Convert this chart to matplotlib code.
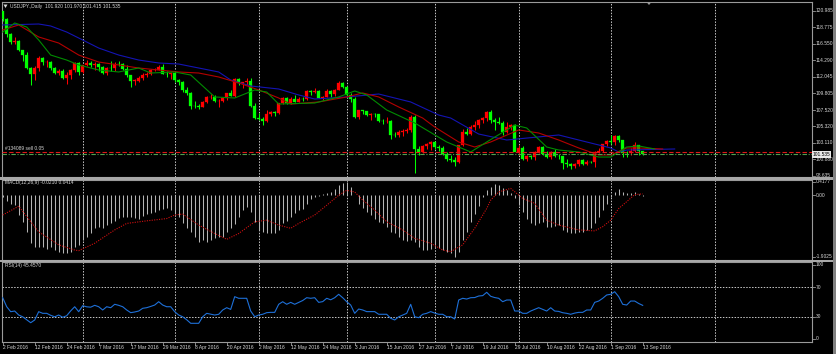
import matplotlib
matplotlib.use("Agg")
import matplotlib.pyplot as plt
from matplotlib.patches import Rectangle, Polygon

W, H, DPI = 836, 354, 100

# ---------------- data ----------------
symbol_header = "USDJPY.,Daily  101.920 101.970 101.415 101.535"
macd_header = "MACD(12,26,9) -0.0210 0.0414"
rsi_header = "RSI(14) 45.4570"
order_label = "#134089 sell 0.05"

date_labels = ["2 Feb 2016", "12 Feb 2016", "24 Feb 2016", "7 Mar 2016", "17 Mar 2016",
               "29 Mar 2016", "8 Apr 2016", "20 Apr 2016", "2 May 2016", "12 May 2016",
               "24 May 2016", "3 Jun 2016", "15 Jun 2016", "27 Jun 2016", "7 Jul 2016",
               "19 Jul 2016", "29 Jul 2016", "10 Aug 2016", "22 Aug 2016", "1 Sep 2016",
               "13 Sep 2016"]
month_start_bars = [20, 43, 64, 86, 108, 129, 152, 178]

opens = [120.98, 119.95, 117.93, 116.82, 116.86, 115.63, 114.97, 113.29, 112.42, 113.19,
         114.61, 114.02, 114.06, 113.24, 112.57, 112.85, 111.96, 112.30, 112.95, 113.97,
         112.69, 113.60, 113.94, 113.72, 113.79, 113.40, 112.62, 113.28, 113.22, 113.81,
         113.80, 113.16, 112.28, 111.52, 111.55, 111.87, 112.32, 112.39, 112.98, 113.02,
         113.42, 112.41, 112.40, 112.53, 111.63, 111.32, 110.30, 109.85, 108.08, 108.06,
         107.96, 108.62, 109.30, 109.38, 108.76, 108.82, 109.19, 109.82, 109.45, 111.80,
         111.17, 111.32, 111.44, 108.10, 106.50, 106.35, 106.09, 106.96, 107.27, 107.10,
         108.44, 109.22, 108.50, 109.02, 108.63, 109.08, 109.06, 110.13, 109.98, 110.15,
         109.24, 109.33, 110.17, 109.77, 110.22, 111.21, 110.71, 109.56, 108.98, 106.54,
         107.49, 107.36, 106.93, 107.00, 106.96, 106.09, 106.01, 106.02, 104.22, 104.12,
         104.61, 104.75, 104.84, 106.65, 102.20, 101.90, 102.65, 102.95, 103.20, 102.50,
         102.35, 101.60, 100.85, 100.70, 100.45, 102.80, 104.60, 104.30, 105.30, 105.45,
         106.20, 106.40, 107.30, 106.20, 105.95, 105.75, 104.60, 105.30, 105.50, 101.90,
         102.40, 100.95, 101.26, 101.24, 101.81, 102.50, 101.62, 101.20, 101.80, 101.28,
         101.25, 100.30, 100.22, 99.90, 100.23, 100.75, 100.20, 100.50, 100.50, 101.80,
         101.95, 102.95, 103.40, 103.27, 103.98, 103.42, 101.70, 101.70, 101.98, 102.75,
         101.92]
highs = [121.04, 120.07, 118.05, 117.50, 117.08, 115.75, 115.45, 113.40, 113.47, 114.87,
         114.72, 114.40, 114.16, 113.41, 113.17, 113.06, 112.66, 113.17, 114.00, 114.02,
         113.70, 114.30, 114.18, 114.12, 113.95, 113.58, 113.33, 114.15, 114.00, 114.17,
         113.92, 113.60, 112.35, 111.78, 112.17, 112.55, 112.65, 113.16, 113.20, 113.66,
         113.79, 112.79, 112.68, 112.70, 111.80, 111.45, 110.69, 109.95, 108.75, 108.42,
         108.76, 109.50, 109.73, 109.62, 109.05, 109.30, 109.92, 110.20, 111.90, 111.84,
         111.41, 111.88, 111.85, 108.45, 107.10, 106.58, 107.50, 107.48, 107.45, 108.50,
         109.37, 109.28, 109.29, 109.54, 109.30, 109.26, 110.20, 110.30, 110.58, 110.24,
         109.50, 110.34, 110.28, 110.45, 111.45, 111.40, 110.76, 109.80, 109.25, 107.60,
         107.60, 107.40, 107.20, 107.20, 107.00, 106.38, 106.62, 106.17, 104.55, 104.83,
         104.95, 105.05, 106.83, 106.83, 102.60, 102.75, 103.10, 103.30, 103.30, 102.82,
         102.60, 101.90, 101.50, 101.20, 102.85, 104.94, 105.15, 105.45, 106.00, 106.30,
         106.55, 107.40, 107.49, 106.50, 106.56, 106.00, 105.87, 105.70, 105.70, 102.85,
         102.63, 101.40, 101.50, 102.05, 102.67, 102.60, 101.95, 102.05, 102.25, 101.55,
         101.30, 100.95, 100.30, 100.40, 100.90, 100.95, 100.70, 100.68, 102.05, 102.40,
         103.00, 103.50, 104.20, 104.15, 104.10, 103.50, 102.00, 102.40, 103.18, 102.78,
         101.97]
lows = [119.63, 117.52, 116.53, 116.46, 115.55, 114.21, 113.07, 110.98, 111.56, 112.88,
        113.70, 113.36, 112.99, 112.38, 112.29, 111.74, 111.04, 111.80, 112.75, 112.36,
        112.54, 113.52, 113.40, 113.00, 112.85, 112.45, 112.33, 112.88, 112.89, 113.51,
        112.95, 111.97, 110.67, 110.98, 111.32, 111.63, 112.02, 112.30, 112.90, 113.02,
        112.40, 112.00, 111.80, 111.40, 111.00, 110.05, 109.62, 107.65, 107.85, 107.62,
        107.90, 108.50, 109.00, 108.70, 107.89, 108.62, 108.94, 109.39, 109.37, 110.96,
        110.54, 111.00, 107.90, 106.30, 106.13, 105.54, 105.90, 106.80, 106.80, 107.05,
        108.35, 108.30, 108.43, 108.60, 108.60, 108.72, 108.95, 109.57, 109.80, 109.13,
        108.95, 109.29, 109.37, 109.40, 110.20, 110.52, 109.33, 108.70, 106.51, 106.30,
        107.05, 106.70, 106.25, 106.60, 105.98, 105.65, 105.85, 103.55, 103.90, 103.93,
        104.05, 104.40, 104.60, 99.02, 101.45, 101.73, 102.20, 102.15, 102.25, 102.05,
        101.50, 100.60, 100.55, 99.98, 100.40, 102.60, 104.10, 104.20, 104.90, 105.10,
        105.80, 106.00, 105.78, 104.82, 105.60, 104.15, 104.40, 104.85, 101.95, 101.50,
        100.72, 100.68, 100.96, 100.78, 101.70, 101.50, 101.05, 100.90, 101.15, 100.88,
        99.55, 99.82, 99.55, 99.63, 99.95, 100.10, 100.05, 100.35, 99.85, 101.70,
        101.88, 102.65, 102.90, 102.82, 103.20, 101.20, 101.20, 101.42, 101.90, 101.48,
        101.415]
closes = [119.95, 117.93, 116.82, 116.86, 115.63, 114.97, 113.29, 112.42, 113.19, 114.61,
          114.02, 114.06, 113.24, 112.57, 112.85, 111.96, 112.30, 112.95, 113.97, 112.69,
          113.60, 113.94, 113.72, 113.79, 113.40, 112.62, 113.28, 113.22, 113.81, 113.80,
          113.16, 112.28, 111.52, 111.55, 111.87, 112.32, 112.39, 112.98, 113.02, 113.42,
          112.41, 112.40, 112.53, 111.63, 111.32, 110.30, 109.85, 108.08, 108.06, 107.96,
          108.62, 109.30, 109.38, 108.76, 108.82, 109.19, 109.82, 109.45, 111.80, 111.17,
          111.32, 111.44, 108.10, 106.50, 106.35, 106.09, 106.96, 107.27, 107.10, 108.44,
          109.22, 108.50, 109.02, 108.63, 109.08, 109.06, 110.13, 109.98, 110.15, 109.24,
          109.33, 110.17, 109.77, 110.22, 111.21, 110.71, 109.56, 108.98, 106.54, 107.49,
          107.36, 106.93, 107.00, 106.96, 106.09, 106.01, 106.02, 104.22, 104.12, 104.61,
          104.75, 104.84, 106.65, 102.20, 101.90, 102.65, 102.95, 103.20, 102.50, 102.35,
          101.60, 100.85, 100.70, 100.45, 102.80, 104.60, 104.30, 105.30, 105.45, 106.20,
          106.40, 107.30, 106.20, 105.95, 105.75, 104.60, 105.30, 105.50, 101.90, 102.40,
          100.95, 101.26, 101.24, 101.81, 102.50, 101.62, 101.20, 101.80, 101.28, 101.25,
          100.30, 100.22, 99.90, 100.23, 100.75, 100.20, 100.50, 100.50, 101.80, 101.95,
          102.95, 103.40, 103.27, 103.98, 103.42, 101.70, 101.70, 101.98, 102.75, 101.92,
          101.535]

# Alligator lines (bar index, price)
jaw_bars = [0, 9, 12, 16, 19, 24, 29, 34, 39, 44, 49, 54, 57, 62, 69, 74, 78, 86, 94, 102,
            109, 112, 119, 126, 139, 144, 152, 154, 156, 168]
jaw_vals = [119.09, 119.22, 118.95, 118.13, 117.32, 115.96, 115.01, 114.33, 113.93, 113.79,
            113.25, 112.71, 111.62, 110.81, 110.40, 109.59, 109.04, 109.32, 109.72, 108.64,
            106.87, 106.46, 104.29, 103.48, 104.16, 103.48, 102.40, 101.85, 102.12, 102.26]
teeth_bars = [0, 4, 9, 14, 19, 24, 29, 34, 39, 44, 49, 54, 59, 64, 69, 72, 79, 86, 90, 94,
              99, 105, 108, 114, 118, 122, 129, 134, 139, 144, 149, 152, 156, 159, 165]
teeth_vals = [118.41, 119.09, 117.46, 116.64, 115.01, 114.06, 113.66, 113.25, 112.98, 112.71,
              112.57, 112.03, 111.22, 110.27, 109.18, 108.36, 108.64, 109.32, 109.86, 109.32,
              107.96, 106.46, 105.24, 103.21, 102.53, 103.21, 104.84, 104.43, 103.48, 102.40,
              101.45, 101.45, 102.40, 102.40, 102.26]
lips_bars = [0, 3, 6, 9, 12, 16, 19, 24, 29, 34, 37, 43, 47, 53, 58, 63, 66, 69, 78, 84,
             88, 91, 96, 103, 111, 117, 121, 128, 131, 136, 139, 144, 149, 152, 156, 159, 163]
lips_vals = [118.13, 119.36, 118.81, 117.05, 115.01, 114.33, 113.66, 112.98, 112.71, 113.25,
             112.57, 112.71, 112.30, 109.32, 109.18, 110.27, 109.99, 108.36, 108.50, 109.32,
             110.13, 109.59, 107.55, 105.79, 103.21, 101.85, 103.21, 105.51, 105.11, 102.53,
             102.12, 101.85, 101.17, 101.17, 102.53, 102.67, 102.26]

macd_main = [-0.05, -0.17, -0.276, -0.307, -0.613, -0.818, -1.145, -1.462, -1.605, -1.585,
             -1.585, -1.656, -1.585, -1.687, -1.738, -1.769, -1.789, -1.738, -1.585, -1.534,
             -1.380, -1.278, -1.176, -1.022, -0.971, -1.002, -0.920, -0.869, -0.787, -0.716,
             -0.685, -0.665, -0.685, -0.716, -0.746, -0.644, -0.583, -0.562, -0.511, -0.460,
             -0.440, -0.409, -0.460, -0.583, -0.665, -0.869, -1.022, -1.125, -1.278, -1.432,
             -1.380, -1.432, -1.380, -1.329, -1.298, -1.278, -1.125, -1.022, -0.890, -0.665,
             -0.460, -0.358, -0.511, -0.818, -1.074, -1.125, -1.155, -1.176, -1.176, -1.074,
             -0.87, -0.79, -0.66, -0.56, -0.46, -0.41, -0.26, -0.12, -0.05, -0.02,
             0.03, 0.08, 0.11, 0.19, 0.31, 0.38, 0.4177, 0.25, 0.02, -0.26,
             -0.38, -0.51, -0.61, -0.72, -0.82, -0.87, -0.97, -1.12, -1.18, -1.28,
             -1.38, -1.40, -1.38, -1.43, -1.59, -1.69, -1.69, -1.67, -1.59, -1.64,
             -1.69, -1.74, -1.79, -1.9025, -1.74, -1.38, -1.12, -0.82, -0.58, -0.34,
             -0.05, 0.15, 0.25, 0.35, 0.31, 0.23, 0.15, 0.06, -0.10, -0.30,
             -0.51, -0.72, -0.87, -0.92, -0.87, -0.82, -0.97, -0.97, -0.95, -0.92,
             -1.07, -1.12, -1.18, -1.18, -1.12, -1.12, -1.07, -1.02, -0.87, -0.66,
             -0.46, -0.26, -0.05, 0.11, 0.18, 0.11, 0.06, 0.06, 0.10, 0.03,
             -0.021]
signal_bars = [0, 4, 9, 14, 18, 19, 23, 28, 31, 36, 41, 43, 45, 49, 53, 56, 59, 63, 66, 69,
               72, 74, 78, 81, 84, 86, 88, 90, 93, 96, 100, 103, 107, 110, 112, 115, 118, 121,
               122, 124, 127, 130, 133, 136, 139, 144, 148, 150, 152, 154, 156, 158, 160]
signal_vals = [-0.61, -0.34, -1.13, -1.53, -1.69, -1.71, -1.48, -1.07, -0.87, -0.79, -0.72,
               -0.61, -0.58, -0.92, -1.18, -1.36, -1.18, -0.82, -0.77, -0.92, -1.02, -0.87,
               -0.61, -0.31, 0.0, 0.15, 0.10, -0.15, -0.46, -0.82, -1.07, -1.33, -1.48, -1.69,
               -1.74, -1.53, -1.02, -0.41, -0.15, 0.10, 0.21, -0.10, -0.25, -0.77, -0.92,
               -1.07, -1.10, -0.97, -0.77, -0.41, -0.20, 0.02, 0.0414]

rsi_vals = [55.8, 43.6, 36.9, 37.8, 32.4, 30.0, 26.0, 22.0, 25.7, 36.9,
            34.7, 34.7, 32.0, 30.0, 32.4, 29.3, 31.5, 38.0, 43.6, 36.9,
            45.0, 43.5, 43.0, 45.5, 43.6, 39.2, 43.6, 42.3, 46.9, 45.5,
            43.6, 39.2, 35.6, 36.5, 37.8, 41.5, 42.3, 44.0, 45.9, 50.4,
            45.9, 43.6, 43.6, 36.9, 32.4, 30.0, 26.0, 21.2, 21.2, 21.2,
            30.1, 34.7, 33.5, 32.4, 33.4, 39.2, 42.3, 40.0, 57.2, 55.0,
            55.0, 55.0, 37.8, 30.1, 32.4, 33.4, 35.6, 36.0, 36.0, 46.9,
            50.4, 46.9, 49.5, 46.9, 49.5, 52.0, 55.8, 55.0, 55.8, 49.5,
            50.5, 55.0, 53.0, 55.8, 60.4, 55.8, 50.4, 45.9, 34.7, 40.5,
            39.2, 37.0, 37.0, 37.0, 33.4, 33.4, 33.4, 28.0, 25.7, 30.0,
            32.4, 34.7, 46.9, 30.1, 28.8, 33.4, 34.7, 37.0, 35.0, 33.4,
            33.4, 30.1, 30.1, 27.0, 52.7, 55.0, 54.0, 55.8, 56.0, 58.1,
            58.6, 63.1, 57.7, 56.0, 55.0, 50.4, 52.7, 52.7, 37.8, 37.8,
            34.7, 34.7, 37.8, 40.0, 42.3, 40.0, 37.8, 42.3, 37.8, 37.3,
            35.5, 34.7, 33.4, 35.0, 36.0, 36.0, 39.2, 39.2, 49.5, 51.3,
            55.0, 59.5, 60.4, 63.9, 57.2, 46.9, 45.9, 51.3, 51.3, 48.0,
            45.457]

price_labels = [120.985, 118.775, 116.550, 114.290, 112.045, 109.805, 107.520,
                105.320, 103.110, 100.880, 98.635]
current_price = 101.535
order_price = 101.81
macd_labels = [0.4177, 0.00, -1.9025]
rsi_levels = [70, 30]
rsi_labels = [100, 70, 30, 0]

# ---------------- style ----------------
BULL = "#ff0000"
BEAR = "#00ff00"
FRAME = "#9a9a9a"
GRID = "#c8c8c8"
TXT = "#d8d8d8"
FONT = "Liberation Sans"
FS = 3.5

fig = plt.figure(figsize=(W / DPI, H / DPI), dpi=DPI)
fig.patch.set_facecolor("black")

X0, X1 = 2, 812


def px_axes(y0, y1):
    ax = fig.add_axes([X0 / W, 1 - y1 / H, (X1 - X0) / W, (y1 - y0) / H])
    ax.set_facecolor("black")
    ax.set_xticks([])
    ax.set_yticks([])
    for s in ax.spines.values():
        s.set_color(FRAME)
        s.set_linewidth(0.8)
    ax.set_xlim((X0 - 2.7) / 4, (X1 - 2.7) / 4)
    return ax


def ftext(x, y, s, **kw):
    kw.setdefault("color", TXT)
    kw.setdefault("fontsize", FS)
    kw.setdefault("family", FONT)
    return fig.text(x / W, 1 - y / H, s, **kw)


def vgrid(a):
    for g in month_start_bars:
        a.axvline(g - 0.05, color=GRID, lw=0.7, ls=(0, (1.5, 1.5)), zorder=1)


# splitters between windows
for (a, b) in [(177, 179.5), (259.5, 262)]:
    fig.patches.append(Rectangle((0, 1 - b / H), 1, (b - a) / H, transform=fig.transFigure,
                                 facecolor="#a8a8a8", edgecolor="none", zorder=0))
fig.patches.append(Rectangle((833 / W, 0), 3 / W, 1, transform=fig.transFigure,
                             facecolor="#808080", edgecolor="none", zorder=0))

# ---------- main price window ----------
ax = px_axes(2, 177)
slope = 0.1357
ax.set_ylim(120.985 - 166 * slope, 120.985 + 9 * slope)
n = len(closes)
vgrid(ax)

for i in range(n):
    o, h, l, c = opens[i], highs[i], lows[i], closes[i]
    col = BULL if c > o else BEAR
    ax.plot([i, i], [l, h], color=col, lw=0.75, zorder=3, solid_capstyle="butt")
    bot = min(o, c)
    ht = max(abs(c - o), 0.04)
    ax.add_patch(Rectangle((i - 0.32, bot), 0.64, ht, facecolor=col, edgecolor=col,
                           lw=0.2, zorder=4))

ax.plot(jaw_bars, jaw_vals, color="#1414b4", lw=0.8, zorder=5)
ax.plot(teeth_bars, teeth_vals, color="#b40000", lw=0.8, zorder=5)
ax.plot(lips_bars, lips_vals, color="#008c00", lw=0.8, zorder=5)

ax.axhline(order_price, color="#e01818", lw=0.8, ls=(0, (4, 2)), zorder=6)
ax.axhline(current_price, color="#50a050", lw=0.8, ls=(0, (4, 1.5, 1, 1.5)), zorder=6)
ax.text(3 / 810, order_price + 0.12, order_label, transform=ax.get_yaxis_transform(),
        fontsize=FS, family=FONT, color=TXT, ha="left", va="bottom")

ytr = ax.get_yaxis_transform()
for v in price_labels:
    ax.plot([1.0, 1.004], [v, v], transform=ytr, color=FRAME, lw=0.6, clip_on=False)
    ax.text(1.005, v, f"{v:.3f}", transform=ytr, fontsize=FS, family=FONT, color=TXT,
            ha="left", va="center", clip_on=False)
ax.text(1.0012, current_price, f"{current_price:.3f}", transform=ytr, fontsize=FS,
        family=FONT, color="black", ha="left", va="center", clip_on=False, zorder=10,
        bbox=dict(boxstyle="square,pad=0.15", facecolor="#e8e8e8", edgecolor="none"))

# header
fig.patches.append(Polygon([[3.5 / W, 1 - 4.5 / H], [7.5 / W, 1 - 4.5 / H], [5.5 / W, 1 - 8 / H]],
                           closed=True, transform=fig.transFigure, facecolor=TXT,
                           edgecolor="none", zorder=10))
ftext(10, 6.5, symbol_header, ha="left", va="center")
# chart shift marker
fig.patches.append(Polygon([[646.5 / W, 1 - 2 / H], [651.5 / W, 1 - 2 / H], [649 / W, 1 - 5 / H]],
                           closed=True, transform=fig.transFigure, facecolor="#9a9a9a",
                           edgecolor="none", zorder=10))

# ---------- MACD window ----------
mx = px_axes(179.5, 259.5)
mz, mk = 195.2, 32.45
mx.set_ylim(-(259.5 - mz) / mk, (mz - 179.5) / mk)
vgrid(mx)
mx.vlines(range(n), 0, macd_main, color="#b4b4b4", lw=0.75, zorder=3)
mx.plot(signal_bars, signal_vals, color="#d01010", lw=0.8, ls=(0, (1, 1.2)), zorder=4)
mytr = mx.get_yaxis_transform()
for v in macd_labels:
    mx.plot([1.0, 1.004], [v, v], transform=mytr, color=FRAME, lw=0.6, clip_on=False)
    s = "0.00" if v == 0 else f"{v:.4f}"
    mx.text(1.005, v, s, transform=mytr, fontsize=FS, family=FONT, color=TXT,
            ha="left", va="center", clip_on=False)
ftext(5, 183, macd_header, ha="left", va="center")

# ---------- RSI window ----------
rx = px_axes(262, 342)
rk = 0.74
rx.set_ylim(-(342 - 339) / rk, 100 + (265 - 262) / rk)
vgrid(rx)
for lv in rsi_levels:
    rx.axhline(lv, color=GRID, lw=0.7, ls=(0, (1.5, 1.5)), zorder=1)
rx.plot(range(n), rsi_vals, color="#1e70d8", lw=0.8, zorder=4)
rytr = rx.get_yaxis_transform()
for v in rsi_labels:
    rx.plot([1.0, 1.004], [v, v], transform=rytr, color=FRAME, lw=0.6, clip_on=False)
    rx.text(1.005, v, str(v), transform=rytr, fontsize=FS, family=FONT, color=TXT,
            ha="left", va="center", clip_on=False)
ftext(5, 266, rsi_header, ha="left", va="center")

# date axis
xtr = rx.get_xaxis_transform()
for k, lab in enumerate(date_labels):
    b = 8 * k
    rx.plot([b, b], [0, -0.035], transform=xtr, color=FRAME, lw=0.6, clip_on=False)
    rx.text(b, -0.065, lab, transform=xtr, fontsize=FS, family=FONT, color=TXT,
            ha="left", va="center", clip_on=False)

fig.savefig("out.png", dpi=DPI, facecolor="black")
